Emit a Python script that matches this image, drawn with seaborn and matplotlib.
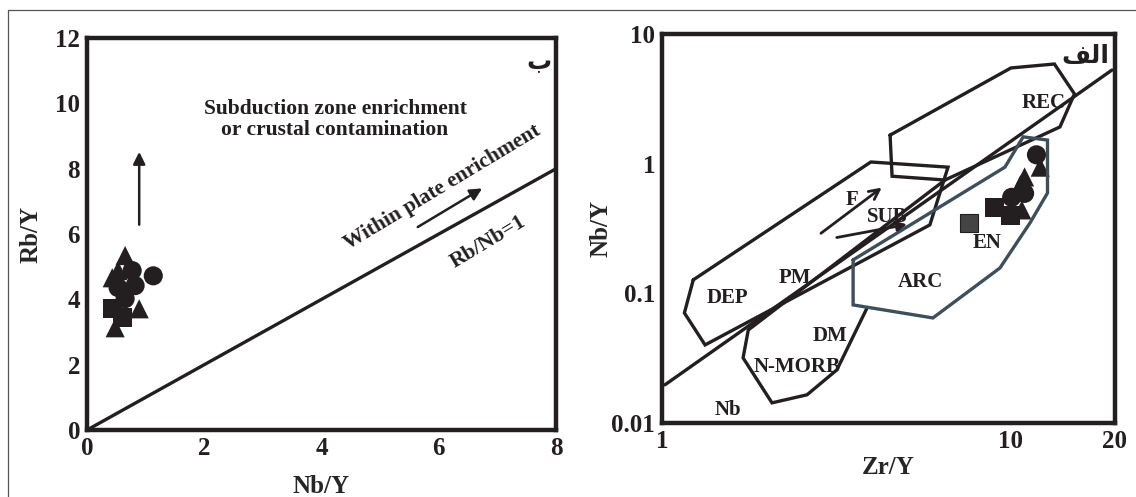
import matplotlib
matplotlib.use('Agg')
import matplotlib.pyplot as plt
import seaborn as sns
import pandas as pd
from matplotlib.lines import Line2D

# left panel (Nb/Y vs Rb/Y) samples
left_tri_x = [0.65, 0.53, 0.43, 0.89, 0.48]
left_tri_y = [5.34, 4.88, 4.66, 3.71, 3.13]
left_circ_x = [0.77, 1.13, 0.53, 0.82, 0.65]
left_circ_y = [4.88, 4.72, 4.36, 4.42, 4.02]
left_sq_x = [0.44, 0.60]
left_sq_y = [3.71, 3.44]
left_xticks = [0, 2, 4, 6, 8]
left_yticks = [0, 2, 4, 6, 8, 10, 12]

# right panel (Zr/Y vs Nb/Y) samples
right_circ_x = [11.9, 11.0, 10.1]
right_circ_y = [1.17, 0.59, 0.55]
right_tri_x = [12.2, 11.0, 10.7, 10.8]
right_tri_y = [0.94, 0.79, 0.69, 0.44]
right_sq_x = [9.04, 10.0]
right_sq_y = [0.46, 0.40]
right_gray_x = [7.6]
right_gray_y = [0.35]

# field outlines (Zr/Y, Nb/Y)
rec_x = [4.52, 10.05, 13.4, 15.3, 13.9, 6.50, 4.58, 4.52]
rec_y = [1.66, 5.47, 5.87, 3.45, 1.92, 0.748, 0.80, 1.66]
dep_x = [1.23, 3.98, 6.63, 5.88, 1.33, 1.16, 1.23]
dep_y = [0.127, 1.03, 0.94, 0.337, 0.040, 0.0706, 0.127]
morb_x = [3.88, 3.18, 2.61, 2.07, 1.71, 1.77, 6.50]
morb_y = [0.077, 0.0257, 0.0165, 0.0143, 0.0318, 0.0522, 0.748]
arc_x = [3.54, 9.66, 10.9, 12.8, 12.8, 11.4, 9.35, 6.0, 3.54, 3.54]
arc_y = [0.181, 0.94, 1.61, 1.52, 0.594, 0.349, 0.157, 0.0646, 0.0814, 0.181]
nb_line_x = [1.02, 19.6]
nb_line_y = [0.0197, 5.27]

ink = '#231f20'
sns.set_style('white')
plt.rcParams['font.family'] = ['Liberation Serif', 'DejaVu Sans']
plt.rcParams['font.weight'] = 'bold'
plt.rcParams['axes.labelweight'] = 'bold'

def make_df(groups):
    rows = []
    for name, xs, ys in groups:
        for x, y in zip(xs, ys):
            rows.append({'x': x, 'y': y, 'kind': name})
    return pd.DataFrame(rows)

left_df = make_df([('tri', left_tri_x, left_tri_y), ('circ', left_circ_x, left_circ_y),
                   ('sq', left_sq_x, left_sq_y)])
right_df = make_df([('tri', right_tri_x, right_tri_y), ('circ', right_circ_x, right_circ_y),
                    ('sq', right_sq_x, right_sq_y)])
marks = {'tri': '^', 'circ': 'o', 'sq': 's'}

fig = plt.figure(figsize=(11.36, 4.97), dpi=100)
ax1 = fig.add_axes([0.0766, 0.1348, 0.4129, 0.7887])
ax2 = fig.add_axes([0.5827, 0.1489, 0.3988, 0.7827])

# outer frame
fig.add_artist(Line2D([0.007, 0.007], [0, 0.98], color='#555555', lw=0.9))
fig.add_artist(Line2D([0.007, 1.0], [0.98, 0.98], color='#555555', lw=0.9))

# ----- left panel
ax1.plot([0, 8], [0, 8], color=ink, lw=2.4)
sns.scatterplot(data=left_df, x='x', y='y', style='kind', markers=marks, color=ink,
                s=190, linewidth=0, legend=False, ax=ax1)
ax1.annotate('', xy=(0.89, 8.6), xytext=(0.89, 6.2),
             arrowprops=dict(arrowstyle='-|>', color=ink, lw=1.8, mutation_scale=18))
ax1.annotate('', xy=(6.78, 7.44), xytext=(5.6, 6.17),
             arrowprops=dict(arrowstyle='-|>', color=ink, lw=1.8, mutation_scale=18))
ax1.text(4.23, 9.5, 'Subduction zone enrichment\nor crustal contamination', ha='center',
         va='center', fontsize=15.5, color=ink, linespacing=1.1)
ax1.text(6.07, 7.42, 'Within plate enrichment', ha='center', va='center', rotation=31,
         fontsize=15.5, color=ink)
ax1.text(6.84, 5.77, 'Rb/Nb=1', ha='center', va='center', rotation=31, fontsize=15.5, color=ink)
ax1.text(7.71, 11.26, 'ب', ha='center', va='center', fontsize=18, color=ink)
ax1.set_xlim(0, 8)
ax1.set_ylim(0, 12)
ax1.set_xticks(left_xticks)
ax1.set_yticks(left_yticks)
ax1.set_xlabel('Nb/Y', fontsize=18)
ax1.set_ylabel('Rb/Y', fontsize=18)
ax1.xaxis.set_label_coords(0.5, -0.115)
ax1.yaxis.set_label_coords(-0.095, 0.5)

# ----- right panel
for xs, ys in [(rec_x, rec_y), (dep_x, dep_y), (morb_x, morb_y)]:
    ax2.plot(xs, ys, color=ink, lw=2.4, solid_joinstyle='miter')
ax2.plot(arc_x, arc_y, color='#3d4f5a', lw=2.4, solid_joinstyle='miter')
ax2.plot(nb_line_x, nb_line_y, color=ink, lw=2.4)
ax2.annotate('', xy=(4.34, 0.673), xytext=(2.82, 0.282),
             arrowprops=dict(arrowstyle='->', color=ink, lw=2.0, mutation_scale=18))
ax2.annotate('', xy=(5.15, 0.343), xytext=(3.12, 0.267),
             arrowprops=dict(arrowstyle='-|>', color=ink, lw=2.0, mutation_scale=14))
sns.scatterplot(data=right_df, x='x', y='y', style='kind', markers=marks, color=ink,
                s=190, linewidth=0, legend=False, ax=ax2)
ax2.scatter(right_gray_x, right_gray_y, marker='s', s=150, color='#444444',
            edgecolor=ink, linewidth=0.8)

labels = [('REC', 12.5, 2.94), ('F', 3.51, 0.525), ('SUB', 4.43, 0.388), ('PM', 2.41, 0.131),
          ('DEP', 1.54, 0.092), ('ARC', 5.54, 0.122), ('EN', 8.58, 0.245), ('DM', 3.04, 0.047),
          ('N-MORB', 2.44, 0.027), ('Nb', 1.55, 0.0126)]
for txt, x, y in labels:
    ax2.text(x, y, txt, ha='center', va='center', fontsize=15, color=ink)
ax2.text(16.4, 6.65, 'ﻒﻟﺍ', ha='center', va='center', fontsize=18, color=ink)

ax2.set_xscale('log')
ax2.set_yscale('log')
ax2.set_xlim(1, 20)
ax2.set_ylim(0.01, 10)
ax2.set_xticks([1, 10, 20])
ax2.set_xticklabels(['1', '10', '20'])
ax2.set_yticks([0.01, 0.1, 1, 10])
ax2.set_yticklabels(['0.01', '0.1', '1', '10'])
ax2.minorticks_off()
ax2.set_xlabel('Zr/Y', fontsize=18)
ax2.set_ylabel('Nb/Y', fontsize=18)
ax2.xaxis.set_label_coords(0.5, -0.085)
ax2.yaxis.set_label_coords(-0.11, 0.5)

for ax in (ax1, ax2):
    for sp in ax.spines.values():
        sp.set_visible(True)
        sp.set_linewidth(3.2)
        sp.set_color(ink)
    ax.tick_params(length=0, labelsize=18, colors=ink, pad=5)
    for lab in ax.get_xticklabels() + ax.get_yticklabels():
        lab.set_fontweight('bold')

fig.savefig('out.png', dpi=100, facecolor='white')
